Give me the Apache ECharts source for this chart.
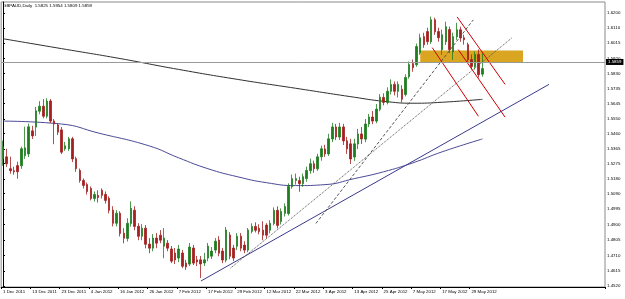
<!DOCTYPE html>
<html>
<head>
<meta charset="UTF-8">
<title>GBPAUD Daily</title>
<script src="https://cdn.jsdelivr.net/npm/echarts@6/dist/echarts.min.js"></script>
<style>
html, body { margin: 0; padding: 0; background: #fff; }
#chart { width: 625px; height: 299px; }
</style>
</head>
<body>
<div id="chart"></div>
<script>
// chart header text
var headerText = 'GBPAUD,Daily  1.5825 1.5954 1.5809 1.5859';

// bar slots on the time axis (data + empty space on the right)
var slotCount = 165;

// date labels, one every 8 bars starting at bar 0
var dateLabels = ['1 Dec 2011', '13 Dec 2011', '23 Dec 2011', '4 Jan 2012', '16 Jan 2012', '26 Jan 2012',
    '7 Feb 2012', '17 Feb 2012', '29 Feb 2012', '12 Mar 2012', '22 Mar 2012', '3 Apr 2012',
    '13 Apr 2012', '25 Apr 2012', '7 May 2012', '17 May 2012', '29 May 2012'];

// price scale labels
var priceTicks = [1.4520, 1.4615, 1.4710, 1.4805, 1.4900, 1.4995, 1.5090, 1.5180, 1.5275, 1.5365,
    1.5460, 1.5550, 1.5645, 1.5735, 1.5830, 1.5920, 1.6015, 1.6110, 1.6200];

// daily candles: open, close, low, high
var candles = [
    [1.5304, 1.5378, 1.5261, 1.5416], [1.5316, 1.5273, 1.5254, 1.5366], [1.5243, 1.5231, 1.5212, 1.5317],
    [1.5231, 1.5224, 1.5206, 1.5255], [1.5262, 1.5224, 1.5181, 1.5286], [1.5261, 1.5366, 1.5242, 1.5378],
    [1.5323, 1.5372, 1.5304, 1.5502], [1.5334, 1.5501, 1.5315, 1.5520], [1.5476, 1.5445, 1.5426, 1.5507],
    [1.5499, 1.5599, 1.5444, 1.5623], [1.5597, 1.5628, 1.5578, 1.5659], [1.5628, 1.5566, 1.5553, 1.5671],
    [1.5566, 1.5659, 1.5553, 1.5677], [1.5660, 1.5536, 1.5523, 1.5672], [1.5537, 1.5518, 1.5394, 1.5549],
    [1.5512, 1.5468, 1.5450, 1.5524], [1.5482, 1.5345, 1.5333, 1.5500], [1.5365, 1.5384, 1.5353, 1.5408],
    [1.5365, 1.5427, 1.5353, 1.5439], [1.5427, 1.5303, 1.5284, 1.5439], [1.5305, 1.5243, 1.5224, 1.5317],
    [1.5232, 1.5170, 1.5157, 1.5244], [1.5171, 1.5140, 1.5121, 1.5183], [1.5146, 1.5102, 1.5084, 1.5158],
    [1.5122, 1.5060, 1.5048, 1.5134], [1.5060, 1.5085, 1.5041, 1.5103], [1.5079, 1.5066, 1.5035, 1.5110],
    [1.5110, 1.5079, 1.5060, 1.5122], [1.5085, 1.5048, 1.5029, 1.5103], [1.5061, 1.4987, 1.4968, 1.5073],
    [1.4988, 1.4907, 1.4888, 1.5012], [1.4907, 1.4969, 1.4888, 1.4988], [1.4969, 1.4845, 1.4826, 1.4981],
    [1.4846, 1.4815, 1.4784, 1.4877], [1.4814, 1.4907, 1.4795, 1.4938], [1.4906, 1.4999, 1.4887, 1.5042],
    [1.4988, 1.4888, 1.4864, 1.5012], [1.4889, 1.4827, 1.4803, 1.4908], [1.4827, 1.4877, 1.4803, 1.4902],
    [1.4877, 1.4778, 1.4753, 1.4896], [1.4779, 1.4754, 1.4723, 1.4816], [1.4754, 1.4816, 1.4735, 1.4841],
    [1.4816, 1.4785, 1.4754, 1.4847], [1.4834, 1.4803, 1.4784, 1.4865], [1.4766, 1.4816, 1.4692, 1.4878],
    [1.4785, 1.4754, 1.4735, 1.4804], [1.4749, 1.4674, 1.4662, 1.4767], [1.4724, 1.4681, 1.4656, 1.4755],
    [1.4693, 1.4749, 1.4668, 1.4774], [1.4724, 1.4643, 1.4631, 1.4743], [1.4663, 1.4638, 1.4620, 1.4682],
    [1.4656, 1.4761, 1.4643, 1.4786], [1.4755, 1.4662, 1.4650, 1.4774], [1.4682, 1.4669, 1.4644, 1.4706],
    [1.4682, 1.4657, 1.4570, 1.4706], [1.4663, 1.4682, 1.4644, 1.4725], [1.4693, 1.4767, 1.4674, 1.4786],
    [1.4705, 1.4736, 1.4687, 1.4761], [1.4742, 1.4797, 1.4723, 1.4816], [1.4804, 1.4723, 1.4704, 1.4828],
    [1.4736, 1.4681, 1.4662, 1.4755], [1.4680, 1.4866, 1.4667, 1.4884], [1.4835, 1.4704, 1.4686, 1.4853],
    [1.4755, 1.4693, 1.4674, 1.4774], [1.4766, 1.4828, 1.4742, 1.4847], [1.4828, 1.4754, 1.4735, 1.4847],
    [1.4773, 1.4742, 1.4723, 1.4797], [1.4742, 1.4866, 1.4729, 1.4878], [1.4857, 1.4888, 1.4845, 1.4907],
    [1.4888, 1.4864, 1.4851, 1.4913], [1.4876, 1.4857, 1.4839, 1.4901], [1.4865, 1.4834, 1.4803, 1.4920],
    [1.4896, 1.4834, 1.4815, 1.4908], [1.4864, 1.4907, 1.4845, 1.4926], [1.4906, 1.4987, 1.4894, 1.5005],
    [1.4987, 1.4894, 1.4875, 1.5011], [1.4918, 1.4980, 1.4900, 1.4999], [1.4968, 1.5011, 1.4949, 1.5030],
    [1.4967, 1.5134, 1.4955, 1.5153], [1.5132, 1.5182, 1.5120, 1.5207], [1.5170, 1.5182, 1.5145, 1.5213],
    [1.5170, 1.5151, 1.5101, 1.5194], [1.5151, 1.5194, 1.5132, 1.5213], [1.5182, 1.5232, 1.5163, 1.5256],
    [1.5231, 1.5274, 1.5212, 1.5305], [1.5274, 1.5243, 1.5218, 1.5293], [1.5242, 1.5316, 1.5230, 1.5335],
    [1.5316, 1.5366, 1.5292, 1.5385], [1.5365, 1.5334, 1.5315, 1.5390], [1.5334, 1.5427, 1.5322, 1.5458],
    [1.5426, 1.5500, 1.5407, 1.5525], [1.5500, 1.5438, 1.5420, 1.5519], [1.5438, 1.5500, 1.5420, 1.5525],
    [1.5500, 1.5414, 1.5389, 1.5519], [1.5415, 1.5365, 1.5334, 1.5439], [1.5396, 1.5303, 1.5272, 1.5427],
    [1.5315, 1.5396, 1.5291, 1.5427], [1.5395, 1.5457, 1.5364, 1.5488], [1.5457, 1.5426, 1.5395, 1.5500],
    [1.5425, 1.5518, 1.5406, 1.5549], [1.5518, 1.5562, 1.5499, 1.5580], [1.5561, 1.5536, 1.5517, 1.5598],
    [1.5536, 1.5610, 1.5523, 1.5641], [1.5609, 1.5683, 1.5597, 1.5702], [1.5682, 1.5651, 1.5633, 1.5707],
    [1.5651, 1.5720, 1.5639, 1.5744], [1.5719, 1.5762, 1.5700, 1.5793], [1.5762, 1.5719, 1.5694, 1.5780],
    [1.5719, 1.5762, 1.5681, 1.5780], [1.5732, 1.5670, 1.5651, 1.5757], [1.5700, 1.5805, 1.5688, 1.5824],
    [1.5809, 1.5884, 1.5797, 1.5903], [1.5890, 1.5865, 1.5840, 1.5915], [1.5883, 1.5995, 1.5871, 1.6013],
    [1.5956, 1.6049, 1.5944, 1.6074], [1.6056, 1.6006, 1.5987, 1.6080], [1.6087, 1.6025, 1.6006, 1.6111],
    [1.6024, 1.6160, 1.6011, 1.6179], [1.6160, 1.6086, 1.6067, 1.6172], [1.6087, 1.6049, 1.6025, 1.6111],
    [1.5975, 1.6068, 1.5944, 1.6099], [1.6024, 1.6117, 1.6005, 1.6148], [1.6099, 1.5975, 1.5956, 1.6118],
    [1.5962, 1.6056, 1.5913, 1.6080], [1.6055, 1.6098, 1.6036, 1.6141], [1.6098, 1.6048, 1.6024, 1.6117],
    [1.6049, 1.6037, 1.6006, 1.6068], [1.6007, 1.5914, 1.5895, 1.6019], [1.5915, 1.5872, 1.5853, 1.5946],
    [1.5872, 1.5946, 1.5853, 1.5964], [1.5946, 1.5822, 1.5803, 1.5977], [1.5825, 1.5859, 1.5809, 1.5954]
];

// moving averages read at some bars: [bar, price]
var maSlow = [[0, 1.6043], [16, 1.5982], [32, 1.5921], [48, 1.5854], [64, 1.5793], [80, 1.5738],
    [96, 1.5683], [104, 1.5658], [112, 1.5646], [120, 1.5652], [131, 1.5670]];
var maFast = [[0, 1.5536], [16, 1.5518], [26, 1.5463], [40, 1.5383], [48, 1.5310], [56, 1.5243],
    [64, 1.5194], [72, 1.5157], [80, 1.5139], [88, 1.5145], [96, 1.5182], [104, 1.5224],
    [112, 1.5279], [120, 1.5347], [131, 1.5426]];

// drawn objects: [bar, price] end points
var trendLine = [[54.1, 1.4552], [149.2, 1.5762]];
var dottedLine = [[62.2, 1.4632], [139.1, 1.6049]];
var dashedLine = [[85.5, 1.4906], [128.5, 1.6159]];
var redChannel = [
    [[124.1, 1.6177], [137.2, 1.5762]],
    [[124.4, 1.5976], [137.2, 1.5560]],
    [[117.3, 1.5988], [129.9, 1.5566]]
];
var zoneBox = [[114.0, 1.5970], [142.1, 1.5895]];
var bidPrice = 1.5859;

var font = 'Liberation Sans';
var slots = [];
for (var i = 0; i < slotCount; i++) slots.push(String(i));

function isLabelSlot(idx) {
    return idx % 8 === 0 && idx / 8 < dateLabels.length;
}

var chart = echarts.init(document.getElementById('chart'));

var series = [
    {
        name: 'zone',
        type: 'line',
        xAxisIndex: 1,
        data: [],
        z: 1,
        silent: true,
        markArea: {
            silent: true,
            itemStyle: { color: '#DAA520', opacity: 1 },
            data: [[{ coord: zoneBox[0] }, { coord: zoneBox[1] }]]
        }
    },
    {
        name: 'ma slow',
        type: 'line',
        xAxisIndex: 1,
        data: maSlow,
        smooth: true,
        showSymbol: false,
        z: 2,
        lineStyle: { color: '#303030', width: 1 }
    },
    {
        name: 'ma fast',
        type: 'line',
        xAxisIndex: 1,
        data: maFast,
        smooth: true,
        showSymbol: false,
        z: 2,
        lineStyle: { color: '#4a4a96', width: 1 }
    },
    {
        name: 'GBPAUD',
        type: 'candlestick',
        data: candles,
        barWidth: 2,
        z: 3,
        itemStyle: {
            color: '#1e7d1e',
            color0: '#a32020',
            borderColor: '#1e7d1e',
            borderColor0: '#a32020',
            borderWidth: 0.8
        },
        markLine: {
            silent: true,
            symbol: 'none',
            lineStyle: { color: '#9a9a9a', width: 1, type: 'solid' },
            label: {
                position: 'end',
                distance: 1,
                formatter: bidPrice.toFixed(4),
                backgroundColor: '#000',
                color: '#fff',
                fontSize: 4.4,
                fontFamily: font,
                padding: [1, 2]
            },
            data: [{ yAxis: bidPrice }]
        }
    },
    {
        name: 'trend',
        type: 'line',
        xAxisIndex: 1,
        data: trendLine,
        showSymbol: false,
        z: 4,
        lineStyle: { color: '#3a3a8c', width: 1 }
    },
    {
        name: 'dotted',
        type: 'line',
        xAxisIndex: 1,
        data: dottedLine,
        showSymbol: false,
        z: 4,
        lineStyle: { color: '#555', width: 1, type: 'dotted' }
    },
    {
        name: 'dashed',
        type: 'line',
        xAxisIndex: 1,
        data: dashedLine,
        showSymbol: false,
        z: 4,
        lineStyle: { color: '#555', width: 1, type: [3, 2] }
    }
];

redChannel.forEach(function (seg, k) {
    series.push({
        name: 'channel' + k,
        type: 'line',
        xAxisIndex: 1,
        data: seg,
        showSymbol: false,
        z: 4,
        lineStyle: { color: '#cc0000', width: 1 }
    });
});

chart.setOption({
    animation: false,
    backgroundColor: '#fff',
    grid: {
        left: 0, right: 20, top: 2, bottom: 12,
        show: true, borderColor: '#8a8a8a', borderWidth: 1
    },
    graphic: [{
        type: 'text',
        left: 3,
        top: 4,
        style: { text: headerText, fontSize: 4.4, fontFamily: font, fill: '#000' }
    }],
    xAxis: [
        {
            type: 'category',
            data: slots,
            axisLine: { lineStyle: { color: '#000' } },
            axisTick: { show: true, length: 2, interval: isLabelSlot, lineStyle: { color: '#000' } },
            axisLabel: {
                interval: isLabelSlot,
                align: 'left',
                margin: 3,
                fontSize: 4.4,
                fontFamily: font,
                color: '#000',
                formatter: function (v, idx) { return dateLabels[idx / 8] || ''; }
            },
            splitLine: { show: false }
        },
        {
            type: 'value',
            min: -0.5,
            max: slotCount - 0.5,
            show: false,
            splitLine: { show: false }
        }
    ],
    yAxis: {
        type: 'value',
        position: 'right',
        min: 1.4515,
        max: 1.6269,
        scale: true,
        splitLine: { show: false },
        axisLine: { show: true, lineStyle: { color: '#000' } },
        axisTick: { show: true, length: 2, customValues: priceTicks, lineStyle: { color: '#000' } },
        axisLabel: {
            customValues: priceTicks,
            margin: 2,
            fontSize: 4.4,
            fontFamily: font,
            color: '#000',
            formatter: function (v) { return v.toFixed(4); }
        }
    },
    series: series
});

window.addEventListener('resize', function () {
    chart.resize();
});
</script>
</body>
</html>
